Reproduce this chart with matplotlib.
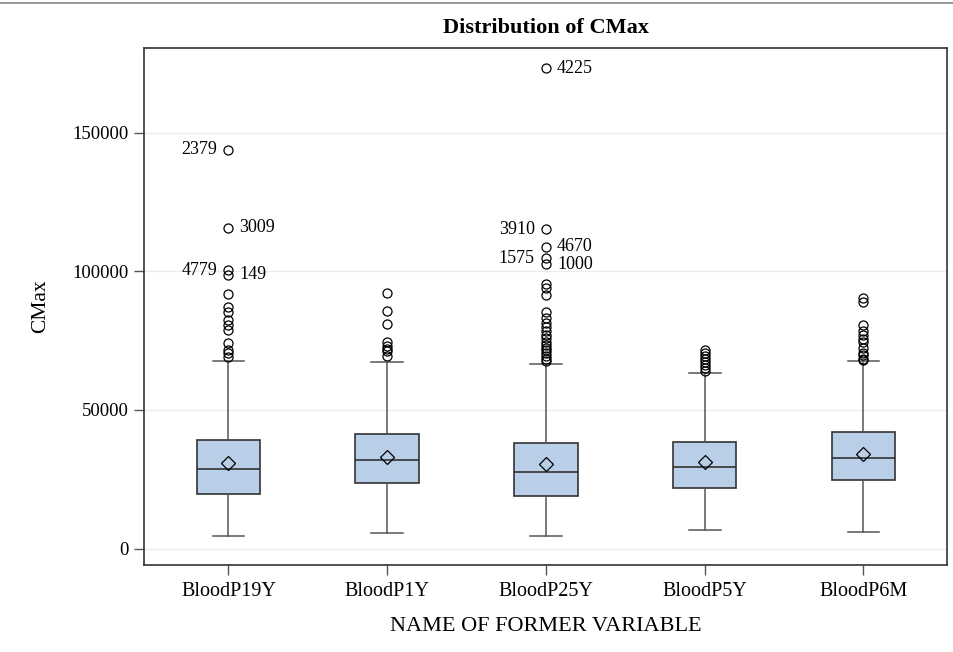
import matplotlib
matplotlib.use("Agg")
import matplotlib.pyplot as plt
from matplotlib.lines import Line2D

plt.rcParams['font.family'] = ['Liberation Serif', 'DejaVu Serif']

# box statistics
categories = ["BloodP19Y", "BloodP1Y", "BloodP25Y", "BloodP5Y", "BloodP6M"]
q1 = [19600, 23800, 18900, 21800, 24800]
medians = [28600, 32000, 27500, 29600, 32600]
q3 = [39100, 41400, 38100, 38600, 42000]
means = [31000, 33200, 30600, 31300, 34000]
whislo = [4500, 5800, 4700, 6700, 6100]
whishi = [67800, 67400, 66600, 63500, 67600]

fliers = [
    [143900, 115700, 100400, 98700, 91700, 87200, 85400, 82400, 80500,
     78800, 74000, 71600, 70500, 69200],
    [92300, 85800, 80900, 74600, 73000, 72000, 71200, 69500],
    [173200, 115100, 108900, 104700, 102600, 95400, 93900, 91400, 85400,
     83000, 81500, 80000, 78500, 77000, 76000, 74500, 73500, 72500, 71500,
     70500, 69500, 68500, 67500],
    [71600, 70500, 69500, 68400, 67300, 66200, 65000, 64000],
    [90500, 88800, 80600, 78500, 77000, 75500, 74600, 72200, 70500, 69800,
     68500, 67900],
]

# labelled outliers (observation ids)
lab_group = [0, 0, 0, 0, 2, 2, 2, 2, 2]
lab_value = [143900, 115700, 100400, 98700, 173200, 115100, 108900, 104700, 102600]
lab_text = ["2379", "3009", "4779", "149", "4225", "3910", "4670", "1575", "1000"]
lab_side = ["left", "right", "left", "right", "right", "left", "right", "left", "right"]

yticks = [0, 50000, 100000, 150000]

stats = []
for i, name in enumerate(categories):
    stats.append(dict(label=name, q1=q1[i], med=medians[i], q3=q3[i],
                      mean=means[i], whislo=whislo[i], whishi=whishi[i],
                      fliers=fliers[i]))

fig = plt.figure(figsize=(9.54, 6.52), dpi=100)
ax = fig.add_axes([0.1513, 0.1334, 0.8411, 0.793])

ax.bxp(stats, positions=range(len(categories)), widths=0.4,
       patch_artist=True, showmeans=True,
       boxprops=dict(facecolor="#B9CFE7", edgecolor="#333333", linewidth=1.2),
       medianprops=dict(color="#333333", linewidth=1.2),
       whiskerprops=dict(color="#555555", linewidth=1.1),
       capprops=dict(color="#555555", linewidth=1.1),
       flierprops=dict(marker="o", markersize=6.5, markerfacecolor="none",
                       markeredgecolor="black", markeredgewidth=0.9),
       meanprops=dict(marker="D", markersize=7.5, markerfacecolor="none",
                      markeredgecolor="black", markeredgewidth=0.9))

for g, v, t, s in zip(lab_group, lab_value, lab_text, lab_side):
    dx = 8 if s == "right" else -8
    ax.annotate(t, xy=(g, v), xytext=(dx, 0), textcoords="offset points",
                ha="left" if s == "right" else "right", va="center",
                fontsize=13)

ax.set_xlim(-0.53, 4.525)
ax.set_ylim(-5900, 180500)
ax.set_yticks(yticks)
ax.set_yticklabels([str(v) for v in yticks])
ax.yaxis.grid(True, color="#ececec", linewidth=1)
ax.set_axisbelow(True)
ax.tick_params(axis="both", direction="out", length=7, width=1,
               color="#555555", pad=4)
ax.tick_params(axis="y", labelsize=13.5)
ax.tick_params(axis="x", labelsize=14.5, pad=5)
for sp in ax.spines.values():
    sp.set_color("#333333")
    sp.set_linewidth(1.2)

ax.set_xlabel("NAME OF FORMER VARIABLE", fontsize=16, labelpad=12)
ax.set_ylabel("CMax", fontsize=15.5, labelpad=16)
ax.text(0.5, 1.038, "Distribution of CMax", transform=ax.transAxes,
        ha="center", va="center", fontsize=16, fontweight="bold")

fig.add_artist(Line2D([0, 1], [0.9955, 0.9955], transform=fig.transFigure,
                      color="#888888", linewidth=1.2))

fig.savefig("out.png", dpi=100)
